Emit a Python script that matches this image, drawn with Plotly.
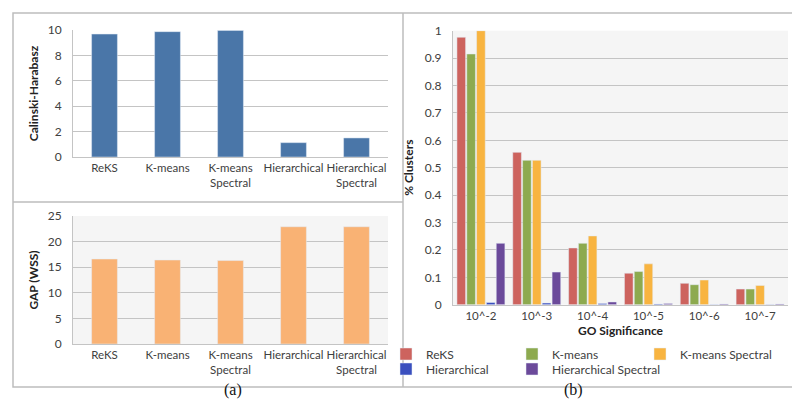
import plotly.graph_objects as go

methods = ["ReKS", "K-means", "K-means<br>Spectral", "Hierarchical", "Hierarchical<br>Spectral"]
calinski = [9.68, 9.87, 9.97, 1.13, 1.5]
gap_wss = [16.6, 16.4, 16.3, 22.9, 22.9]

go_levels = ["10^-2", "10^-3", "10^-4", "10^-5", "10^-6", "10^-7"]
series_names = ["ReKS", "K-means", "K-means Spectral", "Hierarchical", "Hierarchical Spectral"]
reks = [0.976, 0.556, 0.207, 0.115, 0.078, 0.057]
kmeans = [0.915, 0.527, 0.224, 0.121, 0.073, 0.057]
kmeans_spec = [1.0, 0.527, 0.251, 0.149, 0.090, 0.070]
hier = [0.008, 0.006, 0.004, 0.003, 0.001, 0.001]
hier_spec = [0.224, 0.119, 0.010, 0.004, 0.003, 0.003]
series_vals = [reks, kmeans, kmeans_spec, hier, hier_spec]
series_colors = ["#CD635E", "#8DAA4F", "#F8B440", "#3A4FBE", "#6B4A9A"]
legend_ids = ["legend", "legend2", "legend3", "legend4", "legend5"]

W, H = 800, 406
def px(x):
    return x / W
def py(y):
    return 1 - y / H

FONT = "Lato, 'Open Sans', sans-serif"
TICKC = "#404040"
GRID = "#C4C4C4"

fig = go.Figure()

fig.add_trace(go.Bar(x=methods, y=calinski, marker_color="#4A76A8", xaxis="x", yaxis="y",
                     showlegend=False, width=0.41))
fig.add_trace(go.Bar(x=methods, y=gap_wss, marker_color="#F9B274", xaxis="x2", yaxis="y2",
                     showlegend=False, width=0.41))
for name, vals, col, lg in zip(series_names, series_vals, series_colors, legend_ids):
    fig.add_trace(go.Bar(x=go_levels, y=vals, name=name, marker_color=col,
                         xaxis="x3", yaxis="y3", offsetgroup=name, legend=lg))

axis_common = dict(showline=True, linecolor=GRID, linewidth=1, ticks="",
                   tickfont=dict(family=FONT, size=12, color=TICKC))
xcat_common = dict(showline=True, linecolor=GRID, linewidth=1, ticks="", tickangle=0,
                   tickfont=dict(family=FONT, size=11.5, color=TICKC))
title_font = dict(family=FONT, size=12, color="#222222")
legend_common = dict(orientation="h", xanchor="left", yanchor="middle",
                     font=dict(family=FONT, size=12, color=TICKC), itemwidth=30,
                     bgcolor="rgba(0,0,0,0)", borderwidth=0)
# legend anchor positions in pixels (x, y)
legend_pos = [(378, 346), (504, 346), (632, 346), (378, 361), (504, 361)]

fig.update_layout(
    width=W, height=H,
    margin=dict(l=0, r=0, t=0, b=0, autoexpand=False),
    paper_bgcolor="white",
    plot_bgcolor="#F5F5F5",
    barmode="group",
    bargap=0.12, bargroupgap=0.12,
    font=dict(family=FONT, size=12, color=TICKC),
    xaxis=dict(domain=[px(65), px(380)], anchor="y", **xcat_common),
    yaxis=dict(domain=[py(149), py(22)], anchor="x", range=[0, 10], dtick=2,
               showgrid=True, gridcolor=GRID, zeroline=False, ticklabelstandoff=8,
               title=dict(text="<b>Calinski-Harabasz</b>", standoff=6, font=title_font),
               **axis_common),
    xaxis2=dict(domain=[px(65), px(380)], anchor="y2", **xcat_common),
    yaxis2=dict(domain=[py(336), py(208)], anchor="x2", range=[0, 25], dtick=5,
                showgrid=True, gridcolor=GRID, zeroline=False, ticklabelstandoff=8,
                title=dict(text="<b>GAP (WSS)</b>", standoff=6, font=title_font),
                **axis_common),
    xaxis3=dict(domain=[px(445), px(780)], anchor="y3",
                title=dict(text="<b>GO Significance</b>", standoff=6, font=title_font),
                **xcat_common),
    yaxis3=dict(domain=[py(296.7), py(22.7)], anchor="x3", range=[0, 1], dtick=0.1,
                tickformat="~g",
                showgrid=True, gridcolor=GRID, zeroline=False, ticklabelstandoff=8,
                title=dict(text="<b>% Clusters</b>", standoff=8, font=title_font),
                **axis_common),
)
for lg, (lx, ly) in zip(legend_ids, legend_pos):
    fig.update_layout({lg: dict(x=px(lx), y=py(ly), **legend_common)})

shapes = []
shapes.append(dict(type="rect", xref="x domain", yref="y domain", x0=0, x1=1, y0=0, y1=1,
                   fillcolor="white", line=dict(width=0), layer="below"))
LC = "#BDBDBD"
shapes.append(dict(type="rect", xref="paper", yref="paper", x0=px(5), x1=px(794),
                   y0=py(379), y1=py(5), line=dict(color=LC, width=1.5)))
shapes.append(dict(type="line", xref="paper", yref="paper", x0=px(395), x1=px(395),
                   y0=py(379), y1=py(5), line=dict(color=LC, width=1.5)))
shapes.append(dict(type="line", xref="paper", yref="paper", x0=px(5), x1=px(395),
                   y0=py(194), y1=py(194), line=dict(color=LC, width=1.5)))
fig.update_layout(shapes=shapes)

fig.add_annotation(text="(a)", x=px(214), y=py(393), xref="paper", yref="paper",
                   showarrow=False, font=dict(family="Liberation Serif, serif", size=16, color="#111111"))
fig.add_annotation(text="(b)", x=px(577), y=py(393), xref="paper", yref="paper",
                   showarrow=False, font=dict(family="Liberation Serif, serif", size=16, color="#111111"))

fig.write_html("out.html")
